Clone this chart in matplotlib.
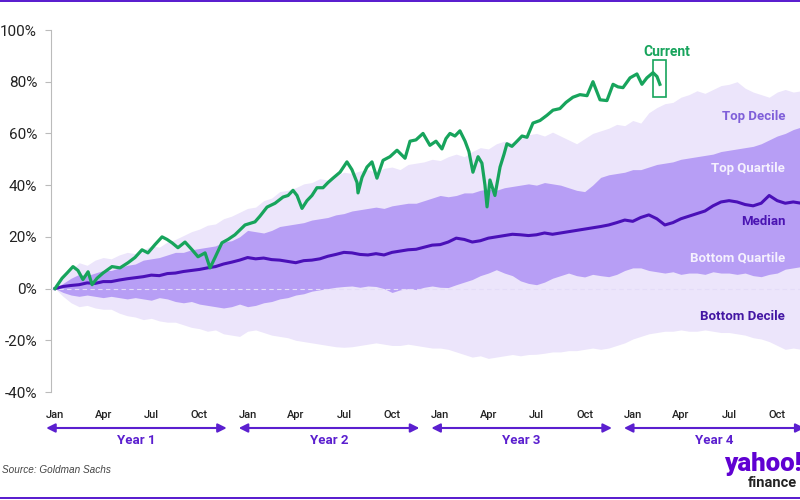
import matplotlib.pyplot as plt
import numpy as np
from matplotlib.patches import Rectangle

# months since start of year 1, half-month steps
months = np.arange(0, 47, 0.5)

top_decile = [
    0, 4, 7, 10, 9, 11, 12, 11.5, 13, 14, 13.5, 15, 16.5, 16, 18, 19, 20.5, 22, 23, 24.5,
    25, 27, 28, 29.5, 31, 31.5, 34, 35, 37.5, 38, 39, 40.5, 41, 42.5, 42, 43.5, 45, 44.5, 45.5, 46,
    45, 46.5, 47, 46, 48, 48.5, 49, 50, 49.5, 51, 52, 51, 53, 54.5, 54, 56, 57, 56.5, 58, 59.5,
    60, 59, 60.5, 59, 57.5, 56, 58, 60, 61, 62, 63.5, 63, 65, 64, 68, 70, 71.5, 72, 74, 75,
    76.5, 75.5, 77, 78.5, 79, 80, 77.5, 76, 75, 74, 76, 77, 76, 76.5,
]
top_quartile = [
    0, 2, 4, 5.5, 5, 6, 7, 7, 8, 9, 9.5, 11, 11.5, 12, 13, 14, 14, 15, 15.5, 16,
    16.5, 18, 18.5, 20, 22.5, 22, 21.5, 22.5, 24, 24.5, 25, 25.5, 26.5, 27, 27.5, 28.5, 29, 30, 30.5, 31,
    31.5, 31, 32, 32.5, 33, 33, 34, 35, 36, 35.5, 36, 37, 37, 38, 38.5, 38, 39, 39.5, 40, 40.5,
    40, 41, 40.5, 40, 39, 38, 37.5, 40, 43, 44, 44.5, 45, 46, 46, 47, 48, 48.5, 49, 50, 50.5,
    51, 51.5, 52, 53, 53.5, 54, 54.5, 55, 56, 57.5, 59, 60, 61.5, 62.5,
]
median = [
    0, 0.8, 1.2, 1.5, 2.2, 2, 2.7, 2.7, 3.3, 3.8, 4.2, 4.6, 5.2, 5, 5.8, 6, 6.6, 7, 7.4, 8,
    8.5, 9.5, 10.2, 11, 12, 11.5, 11.8, 11.2, 11, 10.5, 10, 10.8, 11, 11.5, 12.5, 13.2, 14, 13.8, 13.2, 13,
    13.5, 13, 14, 14.5, 15, 15.2, 16, 16.8, 17, 18, 19.5, 19, 18, 18.5, 19.5, 20, 20.5, 21, 20.8, 20.5,
    20.8, 21.5, 21, 21.5, 22, 22.5, 23, 23.5, 24, 24.6, 25.5, 26.5, 26, 27.5, 28.5, 27, 24.6, 25.5, 27, 28,
    29, 30, 32, 33.5, 34, 33.5, 32.5, 32, 33, 36, 34, 33, 33.5, 33,
]
bottom_quartile = [
    0, -1.5, -2.5, -3, -2.5, -3, -3.5, -3, -3.5, -4, -3.5, -4, -4.5, -3.5, -4, -5, -5.5, -5, -6, -6.5,
    -7, -7.5, -7, -6, -7, -6.5, -5.5, -5, -4, -3.5, -2.5, -2, -1, -0.5, 0, 0.5, 0.8, 1, 0.5, 1,
    0.8, 0, -1.5, -0.5, 0, -0.4, 0.5, 1, 0.5, 0.4, 1.5, 2.5, 3.5, 5, 6, 7.3, 6, 5, 3, 2,
    1.5, 2.5, 4, 5, 6, 5, 4.5, 5.5, 5, 4.6, 5.5, 7, 8, 8, 7, 6.5, 6, 6.5, 5.5, 6,
    6, 5.5, 6.5, 6, 6, 5.5, 6, 5, 4.6, 5.5, 6, 7.5, 8, 8.5,
]
bottom_decile = [
    0, -3, -5.5, -7, -6.5, -7.5, -8, -8, -9.5, -10.5, -11, -12, -11.5, -12.5, -13, -13, -14, -15, -15.5, -16.5,
    -16, -17.5, -18, -18.5, -16.5, -16, -17, -18, -18.5, -19, -20, -20.5, -21, -21.5, -22, -22.5, -22.7, -22.5, -22, -21.5,
    -21, -21.5, -22, -22, -21.5, -22, -22.5, -23, -23, -23.5, -24.5, -25.5, -26.5, -26, -27, -26.5, -26, -25.5, -26, -25.5,
    -25.4, -25, -24.5, -24.5, -24, -24, -23.5, -23, -23.5, -23, -22, -21, -19.5, -18.5, -17.5, -17, -16.5, -16.5, -16, -16.5,
    -16.5, -16, -16.5, -17, -17, -17.5, -18, -19, -19.5, -20.5, -22, -23.5, -23, -23.5,
]

current_months = [
    0.0, 0.44, 0.75, 1.12, 1.43, 1.74, 2.06, 2.31, 2.62, 2.99, 3.55, 4.05, 4.55, 4.98, 5.42, 5.79,
    6.23, 6.67, 6.98, 7.29, 7.66, 8.10, 8.54, 8.91, 9.35, 9.66, 9.97, 10.40, 10.78, 11.21, 11.84,
    12.46, 12.77, 13.21, 13.71, 14.21, 14.52, 14.83, 15.08, 15.39, 15.70, 16.01, 16.32, 16.70,
    17.01, 17.32, 17.76, 18.19, 18.50, 18.82, 18.88, 19.13, 19.44, 19.75, 20.06, 20.44, 20.87,
    21.31, 21.81, 22.12, 22.49, 22.93, 23.36, 23.74, 24.11, 24.36, 24.61, 24.92, 25.23, 25.55,
    25.79, 26.04, 26.36, 26.60, 26.79, 26.92, 27.10, 27.41, 27.73, 27.98, 28.16, 28.47, 28.79,
    29.10, 29.41, 29.78, 30.22, 30.65, 31.03, 31.46, 31.84, 32.27, 32.71, 33.15, 33.52, 33.96,
    34.39, 34.77, 35.08, 35.39, 35.83, 36.26, 36.57, 36.88, 37.26, 37.51, 37.69,
]
current = [
    0, 4, 6, 8.5, 7, 3.5, 6.5, 1.5, 4, 6, 8.5, 8, 10, 12, 15, 13.8,
    17, 20, 19, 17.7, 15.8, 18, 15, 12.3, 13.8, 8, 12, 17.7, 19, 20.8, 24.6,
    25.8, 28, 31.5, 33, 35.4, 36, 38, 36, 31, 34, 36, 39, 39,
    41, 42.7, 45, 49, 46, 41, 37, 43, 47, 49, 42.7, 49.6, 51,
    53.5, 50.4, 57, 57.5, 60, 55.4, 57, 54, 58, 60, 59, 61, 57,
    53, 45, 51, 48.5, 40, 31.6, 42, 36, 47, 52, 56, 55, 57,
    59, 58.5, 64, 65, 67, 69, 69.6, 72, 74, 75, 74.6, 80, 73,
    72.7, 79, 78, 77.7, 81.5, 83, 79, 81.5, 83.5, 82, 79,
]

y_ticks = [100, 80, 60, 40, 20, 0, -20, -40]
month_labels = ["Jan", "Apr", "Jul", "Oct"]
year_labels = ["Year 1", "Year 2", "Year 3", "Year 4"]

band_labels = ["Top Decile", "Top Quartile", "Median", "Bottom Quartile", "Bottom Decile"]
band_label_y = [66.5, 46.5, 25.8, 11.9, -10.8]
band_label_colors = ["#7f5fd9", "#f5f1fe", "#4a14b2", "#f5f1fe", "#4316a3"]

PURPLE = "#5b1fcf"
LIGHT = "#ece5fb"
MEDIUM = "#b79ef5"
MEDIAN_C = "#4a10b8"
GREEN = "#17a45c"

plt.rcParams["font.family"] = ["Roboto", "DejaVu Sans"]

fig = plt.figure(figsize=(8, 5), dpi=100)
ax = fig.add_axes([51 / 800, 108 / 500, 749 / 800, 362 / 500])

ax.fill_between(months, bottom_decile, top_decile, color=LIGHT, linewidth=0, zorder=1)
ax.fill_between(months, bottom_quartile, top_quartile, color=MEDIUM, linewidth=0, zorder=2)
ax.axhline(0, color="#e4dcf8", linewidth=0.8, dashes=(4, 3), zorder=3)
ax.plot(months, median, color=MEDIAN_C, linewidth=2.2, zorder=4, solid_joinstyle="round")
ax.plot(current_months, current, color=GREEN, linewidth=2.3, zorder=5, solid_joinstyle="round")

# box around the latest reading
end_m, end_v = current_months[-1], current[-1]
ax.add_patch(Rectangle((end_m - 0.45, end_v - 5), 0.8, 14.5, fill=False,
                       edgecolor=GREEN, linewidth=1.2, zorder=6))
ax.text(end_m + 0.4, end_v + 12.5, "Current", color=GREEN, fontsize=10,
        fontweight="bold", ha="center", va="center")

for label, yv, c in zip(band_labels, band_label_y, band_label_colors):
    ax.text(45.5, yv, label, color=c, fontsize=9.5, fontweight="bold",
            ha="right", va="center", zorder=7)

ax.set_xlim(-0.25, 46.42)
ax.set_ylim(-40, 100)
ax.set_yticks(y_ticks)
ax.set_yticklabels([f"{v}%" for v in y_ticks], fontsize=11, color="#222222")
ax.tick_params(axis="y", length=4, width=0.8, color="#bbbbbb", pad=6)

qtr = np.arange(0, 48, 3)
ax.set_xticks(qtr)
ax.set_xticklabels([month_labels[i % 4] for i in range(len(qtr))],
                   fontsize=8, fontweight="medium", color="#222222")
ax.tick_params(axis="x", length=0, pad=13)

for side in ["top", "right", "bottom"]:
    ax.spines[side].set_visible(False)
ax.spines["left"].set_color("#bbbbbb")
ax.spines["left"].set_linewidth(0.8)

# year arrows under the month labels
for k, name in enumerate(year_labels):
    x0, x1 = 12 * k - 0.55, 12 * k + 10.7
    ax.annotate("", xy=(x1, 72), xytext=(x0, 72),
                xycoords=("data", "figure pixels"), textcoords=("data", "figure pixels"),
                arrowprops=dict(arrowstyle="<|-|>", color=PURPLE, lw=1.5,
                                mutation_scale=13, shrinkA=0, shrinkB=0),
                annotation_clip=False)
    ax.annotate(name, xy=((x0 + x1) / 2, 59), xycoords=("data", "figure pixels"),
                ha="center", va="center", fontsize=9.5, fontweight="bold",
                color=PURPLE, annotation_clip=False)

fig.text(2 / 800, 30 / 500, "Source: Goldman Sachs", fontsize=7.2, style="italic",
         color="#444444", family="Liberation Sans", va="center")
fig.text(802 / 800, 29 / 500, "yahoo!", fontsize=18.5, fontweight="heavy",
         color="#6001d2", ha="right", va="baseline")
fig.text(797 / 800, 13 / 500, "finance", fontsize=10.5, fontweight="bold",
         color="#232323", ha="right", va="baseline")

fig.add_artist(Rectangle((0, 1 - 2 / 500), 1, 2 / 500, transform=fig.transFigure,
                         color=PURPLE, linewidth=0))
fig.add_artist(Rectangle((0, 1 / 500), 1, 2 / 500, transform=fig.transFigure,
                         color=PURPLE, linewidth=0))

fig.savefig("out.png", dpi=100)
